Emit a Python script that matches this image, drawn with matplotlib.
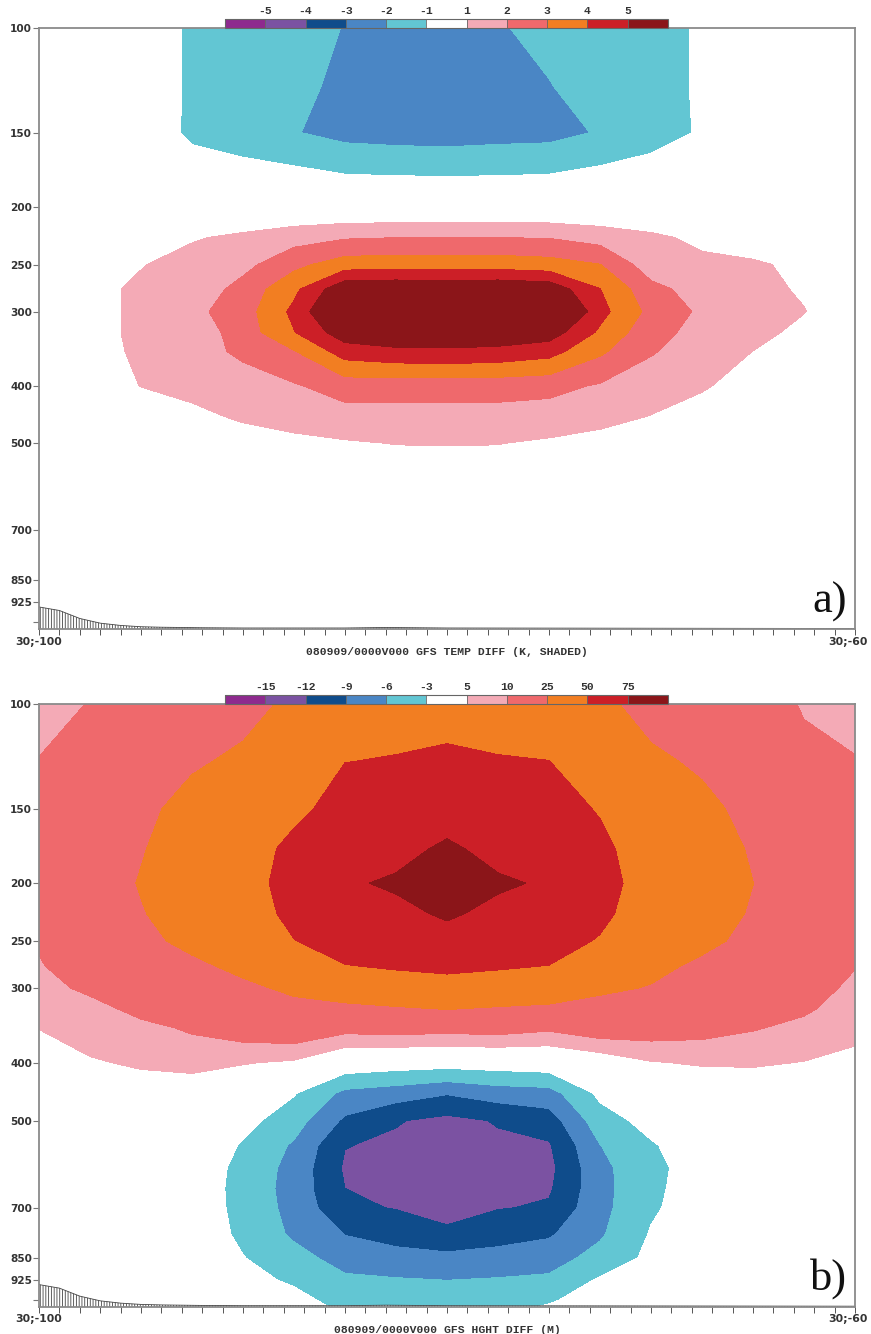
import numpy as np
import matplotlib
matplotlib.use("Agg")
import matplotlib.pyplot as plt
from matplotlib.ticker import NullLocator

plt.rcParams['axes.unicode_minus'] = False
plt.rcParams['hatch.linewidth'] = 0.6
plt.rcParams['hatch.color'] = '#444444'

# cross section along 30N, lon -100 .. -60 (grid)
lons = [-100, -97.5, -95, -92.5, -90, -87.5, -85, -82.5, -80,
        -77.5, -75, -72.5, -70, -67.5, -65, -62.5, -60]

# a) temperature difference (K)
temp_plev = [100, 125, 150, 175, 200, 225, 250, 275, 300, 325, 350,
             400, 450, 500, 600, 700, 850, 1000, 1025]
temp_diff = [
    [0, 0, -0.3, -1.18, -1.5, -1.8, -2.02, -2.4, -2.4, -2.1, -1.68, -1.5, -1.3, -0.9, 0, 0, 0],
    [0, 0, -0.3, -1.18, -1.55, -1.85, -2.13, -2.5, -2.5, -2.4, -2.05, -1.43, -1.3, -0.9, 0, 0, 0],
    [0, 0, -0.3, -1.2, -1.6, -1.95, -2.3, -2.4, -2.45, -2.35, -2.3, -1.925, -1.4, -0.9, 0, 0, 0],
    [0, 0, -0.1, -0.5, -0.6, -0.8, -1.05, -1.1, -1.12, -1.1, -1.05, -0.8, -0.6, -0.4, 0, 0, 0],
    [0, 0, 0, 0, 0, 0, 0, 0, 0, 0, 0, 0, 0, 0, 0, 0, 0],
    [0, 0.2, 0.5, 0.9, 1.2, 1.6, 1.9, 1.98, 1.99, 1.98, 1.95, 1.6, 1.2, 0.75, 0.4, 0.1, 0],
    [0.1, 0.5, 0.945, 1.4, 1.7, 2.73, 3.5, 3.55, 3.55, 3.55, 3.4, 3.02, 1.45, 1.25, 1.15, 0.75, 0.2],
    [0.1, 0.69, 1.2, 1.33, 2.36, 3.76, 5.8, 5.9, 5.8, 5.9, 5.7, 4.02, 2.3, 1.57, 1.25, 0.9, 0.3],
    [0.1, 0.37, 1.4, 1.73, 2.54, 4.24, 6.7, 7.0, 7.0, 7.0, 7.1, 4.32, 2.71, 1.82, 1.35, 1.03, 0.4],
    [0.1, 0.69, 1.2, 1.38, 2.47, 3.96, 5.6, 5.9, 5.8, 5.8, 5.53, 3.83, 2.32, 1.69, 1.3, 0.75, 0.25],
    [0.1, 0.65, 1.16, 1.63, 2.17, 2.94, 4.47, 4.75, 4.82, 4.7, 4.38, 3.17, 2.08, 1.52, 0.99, 0.6, 0.2],
    [0.1, 0.5, 1.02, 1.3, 1.6, 1.9, 2.45, 2.4, 2.4, 2.4, 2.3, 1.9, 1.5, 1.1, 0.6, 0.3, 0.1],
    [0, 0.2, 0.45, 0.75, 1.15, 1.45, 1.6, 1.64, 1.64, 1.64, 1.55, 1.35, 0.97, 0.6, 0.3, 0.1, 0],
    [0, 0.1, 0.2, 0.35, 0.5, 0.7, 0.9, 1.02, 1.03, 1.02, 0.85, 0.6, 0.4, 0.25, 0.1, 0, 0],
    [0, 0, 0.05, 0.1, 0.15, 0.2, 0.3, 0.3, 0.3, 0.3, 0.3, 0.2, 0.15, 0.1, 0.05, 0, 0],
    [0, 0, 0, 0, 0, 0, 0, 0, 0, 0, 0, 0, 0, 0, 0, 0, 0],
    [0, 0, 0, 0, 0, 0, 0, 0, 0, 0, 0, 0, 0, 0, 0, 0, 0],
    [0, 0, 0, 0, 0, 0, 0, 0, 0, 0, 0, 0, 0, 0, 0, 0, 0],
    [0, 0, 0, 0, 0, 0, 0, 0, 0, 0, 0, 0, 0, 0, 0, 0, 0],
]

# b) height difference (m)
hght_plev = [100, 125, 150, 175, 200, 225, 250, 275, 300, 325, 350, 400,
             450, 500, 550, 600, 650, 700, 775, 850, 925, 1000, 1025]
hght_diff = [
    [8, 10.2, 13, 17, 20, 28, 40, 44, 45, 44, 41, 28, 20, 17, 13, 9.5, 8],
    [10.2, 12.5, 17, 23, 28, 40, 49.8, 50.9, 52.5, 50.9, 50.2, 41, 27.7, 22.8, 16.5, 11.5, 10.3],
    [11.2, 14.5, 21, 30.7, 34, 45, 58, 60, 65, 60, 58, 48.5, 34, 28.8, 20.5, 13.5, 11.3],
    [11.8, 15.5, 24, 33, 39, 55.7, 66, 68.4, 78.5, 68.4, 66, 54.7, 39, 32.5, 23.5, 15.5, 11.8],
    [12, 16, 26, 34.5, 42.7, 57, 72.3, 78, 85, 78, 72.5, 56, 42.7, 34, 25.1, 17, 12],
    [11.5, 15.5, 24, 33, 40, 55, 66, 69.2, 78, 69.2, 66, 54, 40, 32.5, 23.5, 16, 11.6],
    [10.5, 14.5, 21, 29, 35, 49.5, 57, 62, 66.2, 62, 57, 48.6, 35, 29, 20.5, 14.5, 10.8],
    [9.6, 13, 17.5, 21.8, 29, 40, 49.5, 52, 55, 52, 49.8, 39, 29.5, 21.8, 17.5, 13, 10.2],
    [8, 11.2, 14.5, 16, 21.6, 28, 35, 41, 41.1, 41, 36, 28, 23.9, 17.5, 14.5, 12, 9.0],
    [6.5, 7.95, 11.7, 13.2, 17, 20.2, 20.6, 22.7, 25.5, 22.9, 21.5, 18.9, 17.5, 14.5, 12.5, 10.8, 7.5],
    [5.05, 6.6, 8.44, 10.74, 13, 14.4, 12, 12.5, 12, 12.5, 11, 13.5, 13, 12.0, 10.39, 8.6, 6.0],
    [3.5, 4.62, 5.5, 6.33, 5.3, 4.2, -1.05, -1.52, -1.75, -1.52, -1.2, 1.2, 4.6, 5.63, 5.61, 4.82, 4.0],
    [2, 3.0, 3.1, 2.4, 0.5, -2.8, -6.77, -7.6, -8.8, -7.6, -7.2, -2.36, 0.5, 0, 1.4, 2.5, 2.5],
    [1, 1.5, 1.0, 0.5, -2.0, -4.7, -9.54, -11.8, -12.8, -11.8, -10.5, -4.3, -2.0, -0.8, 0, 1.0, 1.2],
    [0.5, 0.5, 0, -0.5, -3.3, -6.4, -11.9, -12.5, -14, -12.5, -12.3, -6.06, -3.3, -1.3, -0.5, 0.3, 0.5],
    [0, 0, -0.3, -1.0, -3.9, -7.0, -12.4, -13.2, -14.5, -13.2, -12.8, -6.8, -3.8, -1.6, -0.7, 0, 0],
    [0, 0, -0.4, -1.2, -4.0, -7.2, -12.0, -13, -14, -13, -12.4, -7.0, -3.6, -1.6, -0.7, 0, 0],
    [0, 0, -0.4, -1.2, -3.9, -7.0, -11.3, -12.2, -13, -12.2, -11.6, -6.9, -3.4, -1.5, -0.6, 0, 0],
    [0, 0, -0.3, -1.1, -3.6, -6.5, -9.1, -9.43, -11.44, -9.43, -9.4, -6.4, -2.78, -1.3, -0.5, 0, 0],
    [0, 0, -0.2, -0.9, -2.89, -4.93, -7.2, -8.6, -8.14, -8.6, -7.2, -5.0, -2.3, -1.0, -0.4, 0, 0],
    [0, 0, -0.1, -0.7, -2.2, -3.4, -5.47, -5.7, -6.05, -5.7, -5.5, -2.63, -1.8, -0.8, -0.3, 0, 0],
    [0, 0, 0, -0.5, -1.6, -2.2, -4.0, -4, -4.5, -4, -3.3, -1.8, -1.3, -0.5, -0.2, 0, 0],
    [0, 0, 0, -0.4, -1.4, -1.8, -3.6, -3.8, -4.2, -3.8, -2.8, -1.5, -1.1, -0.4, -0.1, 0, 0],
]

temp_levels = [-5, -4, -3, -2, -1, 1, 2, 3, 4, 5]
hght_levels = [-15, -12, -9, -6, -3, 5, 10, 25, 50, 75]
shade_colors = ['#8e2a8e', '#7b52a2', '#0f4c8b', '#4a86c5', '#62c6d3', '#ffffff',
                '#f4aab6', '#ef696c', '#f27e22', '#cc1f27', '#8b1519']

# surface pressure along the section (hatched terrain)
terrain_lon = [-100, -99, -98, -97, -96, -95, -94, -92, -90, -85, -83, -80, -70, -60]
terrain_psfc = [942, 955, 985, 1003, 1012, 1017, 1019, 1021, 1022, 1022, 1020, 1022, 1023, 1024]

y_ticks = [100, 150, 200, 250, 300, 400, 500, 700, 850, 925, 1000]
y_labels = ['100', '150', '200', '250', '300', '400', '500', '700', '850', '925', '']

W, H = 871, 1334
mono = 'Liberation Mono'
frame = '#8a8a8a'


def draw_panel(ax, cax, plev, field, levels, title, tag):
    bounds = [-1000] + levels + [1000]
    cs = ax.contourf(lons, plev, np.array(field), levels=bounds, colors=shade_colors)

    ax.fill_between(terrain_lon, terrain_psfc, 1030, facecolor='white',
                    edgecolor='#444444', hatch='||||||', linewidth=0, zorder=3)
    ax.plot(terrain_lon, terrain_psfc, color='#444444', lw=0.6, zorder=4)

    ax.set_yscale('log')
    ax.set_ylim(1026, 100)
    ax.set_xlim(-100, -60)
    ax.set_yticks(y_ticks)
    ax.set_yticklabels(y_labels, fontsize=7.6, fontweight='bold', color='#333333')
    ax.yaxis.set_minor_locator(NullLocator())
    ax.set_xticks(np.arange(-100, -59, 1))
    ax.tick_params(axis='x', direction='out', length=4, width=0.7, color='#555555',
                   labelbottom=False)
    ax.tick_params(axis='y', direction='out', length=4, width=0.8, color='#777777', pad=1)
    for s in ax.spines.values():
        s.set_color(frame)
        s.set_linewidth(1.3)
        s.set_zorder(5)

    ax.text(0, -0.021, '30;-100', transform=ax.transAxes, ha='center', va='center',
            fontsize=7.8, fontweight='bold', color='#333333')
    ax.text(1.016, -0.021, '30;-60', transform=ax.transAxes, ha='right', va='center',
            fontsize=7.8, fontweight='bold', color='#333333')
    ax.text(0.5, -0.038, title, transform=ax.transAxes, ha='center', va='center',
            fontsize=8.2, family=mono, fontweight='bold', color='#333333')
    ax.text(0.99, 0.012, tag, transform=ax.transAxes, ha='right', va='bottom',
            fontsize=32, family='Liberation Serif', color='#111111', zorder=6)

    cb = plt.colorbar(cs, cax=cax, orientation='horizontal', spacing='uniform',
                      ticks=levels, drawedges=True)
    cb.ax.xaxis.set_ticks_position('top')
    cb.ax.set_xticklabels([str(v) for v in levels], fontsize=8.2, family=mono,
                          fontweight='bold', color='#333333')
    cb.ax.tick_params(length=0, pad=2)
    cb.outline.set_edgecolor('#666666')
    cb.outline.set_linewidth(0.8)
    cb.dividers.set_color('#666666')
    cb.dividers.set_linewidth(0.6)


fig = plt.figure(figsize=(W / 100, H / 100), dpi=100)

ax_a = fig.add_axes([39 / W, 1 - 629 / H, 816 / W, 601 / H])
cax_a = fig.add_axes([225 / W, 1 - 28 / H, 443 / W, 9 / H])
draw_panel(ax_a, cax_a, temp_plev, temp_diff, temp_levels,
           '080909/0000V000 GFS TEMP DIFF (K, SHADED)', 'a)')

ax_b = fig.add_axes([39 / W, 1 - 1306.7 / H, 816 / W, 603 / H])
cax_b = fig.add_axes([225 / W, 1 - 704 / H, 443 / W, 9 / H])
draw_panel(ax_b, cax_b, hght_plev, hght_diff, hght_levels,
           '080909/0000V000 GFS HGHT DIFF (M)', 'b)')

fig.savefig('out.png', dpi=100)
